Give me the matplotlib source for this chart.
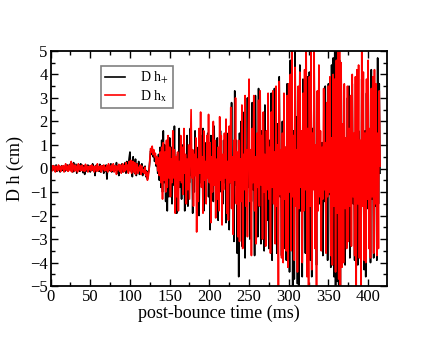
import numpy as np
import matplotlib
matplotlib.use("Agg")
import matplotlib.pyplot as plt
from matplotlib.ticker import MultipleLocator

plt.rcParams["font.family"] = ["Liberation Serif", "DejaVu Serif"]
plt.rcParams["mathtext.fontset"] = "stix"

# post-bounce time (ms), one sample per ms
t_start = 0
t_step = 1

# D h_+ (cm)
h_plus = [
    0.05, -0.08, 0.1, -0.05, 0.12, -0.1, 0.02, 0.15, -0.12, 0.08, -0.03, 0.1, -0.15, 0.05, 0.12, -0.08, 0.0, 0.1, -0.12, 0.06, -0.05, 0.15, -0.1, 0.08, -0.02,
    0.2, -0.05, 0.12, -0.15, 0.25, -0.1, 0.05, 0.18, -0.2, 0.1, -0.08, 0.15, -0.12, 0.2, -0.05, 0.08, -0.18, 0.12, -0.25, 0.1, 0.05, -0.12, 0.15, -0.08, 0.1,
    -0.15, 0.12, -0.05, 0.2, -0.1, 0.08, -0.3, 0.1, 0.15, -0.08, 0.05, -0.12, 0.18, -0.15, 0.1, -0.05, 0.12, -0.2, 0.08, -0.1, 0.15, -0.45, 0.1, -0.05, 0.12,
    -0.1, 0.2, -0.15, 0.05, 0.18, -0.12, 0.1, -0.08, 0.25, -0.2, 0.1, -0.3, 0.15, 0.05, -0.1, 0.2, -0.15, 0.12, -0.05, 0.25, -0.2, 0.3, -0.1, 0.15, 0.45,
    0.7, -0.1, 0.3, -0.35, 0.5, 0.1, -0.2, 0.4, -0.3, 0.2, -0.1, 0.3, -0.25, 0.1, -0.15, 0.2, -0.3, 0.05, -0.2, 0.1, -0.35, -0.1, -0.45, -0.2, -0.05,
    0.3, 0.75, 0.6, 0.85, 0.5, 0.7, 0.3, 0.55, 0.1, 0.4, -0.2, 0.6, -0.5, 0.9, -0.8, 1.2, -1.0, 1.6, -0.6, 1.0, -1.4, 0.8, -1.8, 0.5, -1.2,
    1.3, -0.4, 0.9, -1.5, 0.3, -0.7, 1.8, -1.1, 0.2, -1.9, 0.6, -0.4, 1.7, -0.8, 0.5, -1.3, 1.0, -0.2, 0.6, -1.8, 0.4, -0.5, 1.4, -1.6, 0.7,
    -0.6, 1.7, -0.3, 0.8, -1.9, 0.4, -1.0, 1.6, -0.2, 0.5, -1.5, 0.9, -2.0, 0.3, -0.6, 1.4, -0.5, 1.7, -1.8, 0.2, -0.9, 1.1, -0.3, 1.5, -1.2,
    0.4, -2.6, 1.4, -0.8, 0.6, -1.4, 1.8, -0.5, 0.3, -1.6, 1.3, -2.2, 0.5, -0.4, 1.6, -1.0, 0.2, -1.5, 1.2, -0.6, 0.9, -2.3, 1.5, -0.7, 0.6,
    -2.6, 1.1, -0.6, 2.8, -1.2, 0.5, -3.1, 3.3, -0.7, 1.2, -3.6, 0.6, -4.6, 1.5, -0.9, 2.0, -3.3, 0.8, -0.4, 2.4, -3.8, 0.5, -1.2, 3.0, -0.8,
    1.4, -3.0, 0.7, -1.4, 2.8, -0.9, 0.6, -3.7, 3.1, -0.5, 1.2, -2.9, 3.4, -1.0, 0.3, -3.2, 1.6, -0.7, 0.9, -3.5, 2.7, -0.8, 1.3, -2.2, 0.6,
    -3.4, 1.2, -0.6, 3.2, -3.9, 0.7, -1.1, 3.4, -0.5, 1.3, -3.6, 1.9, -0.8, 3.9, -1.2, 0.6, -3.7, 2.0, -0.4, 1.1, -3.4, 0.9, -3.9, 3.6, -0.9,
    1.8, -4.4, 4.6, -1.3, 5.0, -5.0, 1.6, -4.7, 5.0, -0.9, 2.2, -4.9, 1.5, -5.0, 4.4, -1.8, 0.8, -4.6, 3.8, -1.4, 0.7, -3.6, 1.9, -4.4, 3.9,
    -1.2, 4.1, -3.9, 0.9, -4.6, 1.7, -0.8, 4.5, -1.8, 0.6, -4.1, 2.6, -0.7, 3.8, -1.5, 0.4, -2.6, 1.1, -3.7, 0.9, -1.4, 3.5, -0.6, 1.2, -3.9,
    3.6, -1.1, 1.3, -4.2, 4.4, -1.8, 4.7, -4.6, 5.0, -5.0, 5.0, -4.8, 5.0, -5.0, 4.6, -5.0, 4.2, -1.4, 1.8, -3.9, 0.9, -4.1, 1.2, -1.6, 3.0,
    -1.3, 3.5, -3.8, 0.8, -1.0, 3.6, -1.5, 0.9, -3.9, 1.4, -0.7, 3.7, -4.1, 1.6, -1.4, 0.6, -3.9, 3.8, -1.0, 1.3, -4.3, 1.6, -4.6, 3.2, -1.7,
    3.9, -1.5, 1.6, -4.0, 4.2, -1.3, 0.6, -3.8, 3.5, -1.6, 1.3, -3.9, 4.7, -1.5, 3.6, -0.2,
]

# D h_x (cm)
h_cross = [
    -0.05, 0.1, -0.1, 0.12, -0.02, 0.08, -0.15, 0.1, 0.05, -0.1, 0.15, -0.05, 0.08, -0.12, 0.1, -0.02, 0.12, -0.15, 0.05, 0.2, -0.08, 0.1, -0.12, 0.15, 0.05,
    -0.1, 0.3, -0.15, 0.2, 0.05, -0.12, 0.15, -0.08, 0.1, -0.15, 0.2, -0.05, 0.12, -0.1, 0.08, 0.15, -0.1, 0.05, -0.12, 0.18, -0.05, 0.1, -0.15, 0.08, -0.05,
    0.12, -0.1, 0.15, -0.05, 0.08, -0.15, 0.1, 0.05, -0.12, 0.2, -0.1, 0.08, -0.05, 0.12, -0.15, 0.1, -0.02, 0.15, -0.1, 0.05, -0.08, 0.12, -0.15, 0.2, -0.05,
    0.1, -0.12, 0.15, -0.08, 0.2, -0.15, 0.05, 0.12, -0.25, 0.1, -0.05, 0.18, -0.12, 0.15, -0.2, 0.1, 0.2, -0.15, 0.12, -0.1, 0.25, -0.05, 0.15, -0.2, 0.3,
    -0.1, 0.35, -0.2, 0.15, 0.3, -0.15, 0.25, -0.25, 0.1, 0.2, -0.2, 0.05, -0.1, 0.15, -0.25, 0.1, -0.15, -0.05, -0.2, 0.05, -0.3, -0.15, -0.5, -0.35, -0.1,
    0.4, 0.85, 0.7, 0.95, 0.6, 0.8, 0.5, 0.65, 0.2, 0.5, -0.1, 0.45, -0.3, 0.7, -0.6, 0.9, -1.3, 1.1, -0.5, 0.7, -1.0, 1.2, -0.8, 1.4, -0.4,
    0.9, -1.2, 0.4, -0.6, 1.6, -0.4, 0.8, -1.9, 0.5, -1.2, 0.7, -1.8, 0.3, -0.5, 1.4, -0.6, 0.9, -1.1, 1.7, -0.2, 0.6, -1.5, 0.4, -0.9, 1.0,
    -1.3, 0.5, 2.5, -0.4, 0.8, -1.6, 0.6, -0.3, 1.3, -2.7, 0.4, -1.4, 1.7, -0.2, 2.4, -0.8, 0.5, -1.9, 1.6, -0.5, 0.3, -1.5, 1.4, -0.4, 2.3,
    -0.6, 1.1, -2.3, 0.5, -1.0, 2.0, -0.7, 1.2, -2.1, 0.4, -1.3, 0.9, -1.8, 2.2, -0.5, 1.4, -2.4, 0.6, -0.9, 1.5, -0.4, 2.1, -1.9, 0.3, -2.2,
    1.8, -0.6, 2.6, -1.7, 0.5, -2.8, 1.2, -0.5, 3.0, -1.5, 0.7, -2.9, 1.2, -3.1, 0.4, -1.4, 2.7, -3.4, 0.6, -0.9, 3.1, -1.6, 0.8, -2.9, 1.5,
    3.8, -1.4, 0.8, -3.7, 1.7, -0.6, 3.1, -1.8, 0.5, -3.2, 1.5, -0.8, 2.9, -1.6, 3.3, -0.7, 1.4, -3.0, 2.4, -1.0, 0.6, -3.3, 1.6, -0.9, 3.2,
    -1.3, 0.9, -3.6, 2.4, -0.8, 3.3, -1.5, 0.7, -3.2, 3.5, -1.6, 1.0, -5.0, 3.7, -1.1, 0.8, -3.8, 1.5, -4.0, 3.2, -1.3, 0.9, -3.5, 3.1, -4.2,
    3.6, -1.0, 4.0, -3.5, 5.0, -1.2, 1.4, -3.9, 4.3, -1.6, 0.8, -4.4, 3.5, -1.7, 4.1, -0.8, 1.6, -4.0, 3.2, -1.8, 4.2, -0.9, 5.0, -4.6, 1.7,
    -5.0, 3.9, -1.6, 5.0, -4.3, 1.5, -0.9, 5.0, -3.4, 1.0, -5.0, 3.3, -1.8, 4.4, -1.2, 1.6, -3.5, 0.9, -1.3, 3.4, -0.9, 1.1, -3.6, 2.8, -1.2,
    3.5, -1.0, 3.9, -3.7, 1.3, -4.1, 4.0, -1.6, 3.8, -4.4, 4.6, -1.9, 5.0, -4.7, 5.0, -5.0, 4.5, -4.2, 1.9, -4.0, 3.6, -1.7, 1.3, -3.4, 3.5,
    -3.1, 1.7, -1.6, 3.1, -3.3, 4.0, -1.2, 1.5, -3.7, 3.9, -5.0, 4.2, -1.5, 4.4, -3.8, 1.2, -5.0, 5.0, -1.6, 4.1, -3.9, 1.5, -4.0, 3.8, -1.3,
    4.6, -3.4, 1.7, -3.8, 3.4, -1.2, 3.9, -3.6, 4.2, -1.5, 3.6, -3.7, 1.5, -3.4, 3.3, 0.1,
]

labels = [r"D h$_{+}$", r"D h$_{\mathrm{x}}$"]
colors = ["black", "red"]

t = t_start + t_step * np.arange(len(h_plus))

fig = plt.figure(figsize=(4.36, 3.37), dpi=100)
ax = fig.add_axes([0.116, 0.151, 0.772, 0.698])

for y, lab, c in zip([h_plus, h_cross], labels, colors):
    ax.plot(t, y, color=c, lw=1.2, label=lab)

ax.set_xlim(0, 424)
ax.set_ylim(-5, 5)
ax.xaxis.set_major_locator(MultipleLocator(50))
ax.xaxis.set_minor_locator(MultipleLocator(25))
ax.yaxis.set_major_locator(MultipleLocator(1))
ax.yaxis.set_minor_locator(MultipleLocator(0.5))
ax.tick_params(which="both", direction="in", top=True, right=True, labelsize=12, pad=2)
ax.tick_params(which="major", length=5, width=1)
ax.tick_params(which="minor", length=3, width=1)
for s in ax.spines.values():
    s.set_linewidth(1.3)

ax.set_xlabel("post-bounce time (ms)", fontsize=13, labelpad=0)
ax.set_ylabel("D h (cm)", fontsize=13, labelpad=4)

leg = ax.legend(loc="upper left", bbox_to_anchor=(0.15, 0.935), borderaxespad=0,
                fancybox=False, fontsize=10, handlelength=1.4, handletextpad=1.1,
                labelspacing=0.1, borderpad=0.3, framealpha=1)
leg.get_frame().set_edgecolor("gray")
leg.get_frame().set_linewidth(1.2)

fig.savefig("out.png", dpi=100)
